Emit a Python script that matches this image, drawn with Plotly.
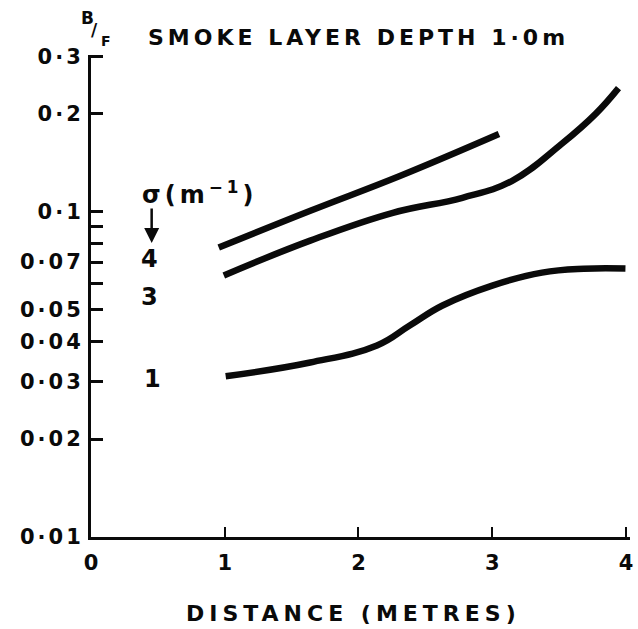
import plotly.graph_objects as go

# ---- data ----
x_s4 = [0.955, 1.64, 2.309, 3.05]
y_s4 = [0.0776, 0.1007, 0.1288, 0.1734]

x_s3 = [0.993, 1.639, 2.257, 2.777, 3.149, 3.520, 3.773, 3.944]
y_s3 = [0.0637, 0.0815, 0.0993, 0.1104, 0.1245, 0.1618, 0.200, 0.240]

x_s1 = [1.007, 1.639, 2.138, 2.383, 2.628, 3.0, 3.372, 3.684, 3.996]
y_s1 = [0.0312, 0.0344, 0.0388, 0.0447, 0.0515, 0.0593, 0.0650, 0.0668, 0.0669]

series_labels = ["4", "3", "1"]

x_tickvals = [0, 1, 2, 3, 4]
x_ticktext = ["0", "1", "2", "3", "4"]
y_tickvals = [0.3, 0.2, 0.1, 0.09, 0.08, 0.07, 0.06, 0.05, 0.04, 0.03, 0.02, 0.01]
y_ticktext = ["0·3", "0·2", "0·1", "", "", "0·07", "", "0·05", "0·04", "0·03", "0·02", "0·01"]

title_text = "SMOKE LAYER DEPTH 1·0m"
xtitle_text = "DISTANCE (METRES)"

W, H = 638, 629
L, R, T, B = 91, 5, 55, 92
FONT = "DejaVu Sans"
INK = "#0a0a0a"

def spaced(s, px):
    return f'<span style="letter-spacing:{px}px">{s}</span>'

def paper(px, py):
    pw = W - L - R
    ph = H - T - B
    return (px - L) / pw, (H - B - py) / ph

fig = go.Figure()
for xs, ys in [(x_s4, y_s4), (x_s3, y_s3), (x_s1, y_s1)]:
    fig.add_trace(go.Scatter(x=xs, y=ys, mode="lines",
                             line=dict(color=INK, width=6.5, shape="spline", smoothing=1.2),
                             showlegend=False, hoverinfo="skip"))

fig.update_layout(
    width=W, height=H,
    margin=dict(l=L, r=R, t=T, b=B),
    paper_bgcolor="white", plot_bgcolor="white",
    font=dict(family=FONT, color=INK, size=20),
    xaxis=dict(range=[0, 4.03], showgrid=False, zeroline=False,
               showline=True, linecolor=INK, linewidth=3,
               ticks="inside", ticklen=10, tickwidth=2, tickcolor=INK,
               tickvals=x_tickvals, ticktext=x_ticktext,
               tickfont=dict(family=FONT, size=21, weight="bold"),
               ticklabelstandoff=5),
    yaxis=dict(type="log", range=[-2, -0.518], showgrid=False, zeroline=False,
               showline=True, linecolor=INK, linewidth=3,
               ticks="inside", ticklen=12, tickwidth=3, tickcolor=INK,
               tickvals=y_tickvals,
               ticktext=[spaced(t, 3) if t else "" for t in y_ticktext],
               tickfont=dict(family=FONT, size=21, weight="bold"),
               ticklabelstandoff=0),
)

def ann(text, px, py, size, **kw):
    xp, yp = paper(px, py)
    fig.add_annotation(text=text, x=xp, y=yp, xref="paper", yref="paper",
                       showarrow=False, xanchor="center", yanchor="middle",
                       font=dict(family=FONT, size=size, color=INK, weight="bold"), **kw)

ann(spaced(title_text, 4), 360, 38, 22)
ann(spaced(xtitle_text, 5), 355, 614, 22)
ann("B", 87, 18, 17)
ann("/", 95, 30, 17)
ann("F", 106, 41, 14)
ann(spaced("σ(m<sup>−1</sup>)", 4), 200, 193, 24)
ann(series_labels[0], 150, 259, 24)
ann(series_labels[1], 150, 297, 24)
ann(series_labels[2], 153, 379, 24)

# arrow
ax0, ay0 = paper(152, 243)
fig.add_annotation(text="", x=ax0, y=ay0, xref="paper", yref="paper",
                   showarrow=True, ax=0, ay=-36, arrowhead=2, arrowsize=1.2,
                   arrowwidth=2.5, arrowcolor=INK)

fig.write_html("out.html", config={"displayModeBar": False},
               post_script="document.body.style.margin='0';")
